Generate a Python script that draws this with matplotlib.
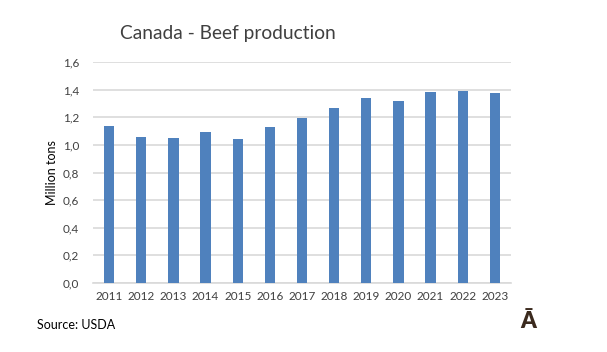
import numpy as np
import matplotlib.pyplot as plt

years = [str(y) for y in range(2011, 2024)]
production = [1.138, 1.058, 1.047, 1.094, 1.043, 1.130, 1.196, 1.264, 1.340, 1.315, 1.380, 1.388, 1.373]
yticks = [0.0, 0.2, 0.4, 0.6, 0.8, 1.0, 1.2, 1.4, 1.6]

plt.rcParams['font.family'] = ['Lato', 'DejaVu Sans']

fig = plt.figure(figsize=(6.07, 3.52), dpi=100)
ax = fig.add_axes([93 / 607, 1 - 283 / 352, 418 / 607, 221 / 352])

x = np.arange(len(years))
ax.bar(x, production, width=0.32, color='#4f81bd', zorder=3)

ax.set_xlim(-0.5, len(years) - 0.5)
ax.set_ylim(0, 1.6)
ax.set_yticks(yticks)
ax.set_yticklabels([f'{v:.1f}'.replace('.', ',') for v in yticks])
ax.set_xticks(x)
ax.set_xticklabels(years)
ax.tick_params(length=0, labelsize=8.5, labelcolor='#404040')
ax.tick_params(axis='y', pad=10)
ax.tick_params(axis='x', pad=6)
ax.grid(axis='y', color='#d9d9d9', linewidth=1.2, zorder=0)
for s in ['top', 'right', 'left']:
    ax.spines[s].set_visible(False)
ax.spines['bottom'].set_color('#d9d9d9')
ax.spines['bottom'].set_linewidth(1.2)

ax.set_ylabel('Million tons', fontsize=9, color='#000000')
ax.yaxis.set_label_coords(-0.084, 0.5)

fig.text(120 / 607, 1 - 33 / 352, 'Canada - Beef production', fontsize=13.8, color='#404040', va='center', ha='left')
fig.text(37 / 607, 1 - 325 / 352, 'Source: USDA', fontsize=9, color='#000000', va='center', ha='left')
fig.text(528 / 607, 1 - 322 / 352, 'Ā', fontsize=16, fontweight='heavy', color='#3b2a1e', va='center', ha='center')

fig.savefig('out.png', dpi=100)
